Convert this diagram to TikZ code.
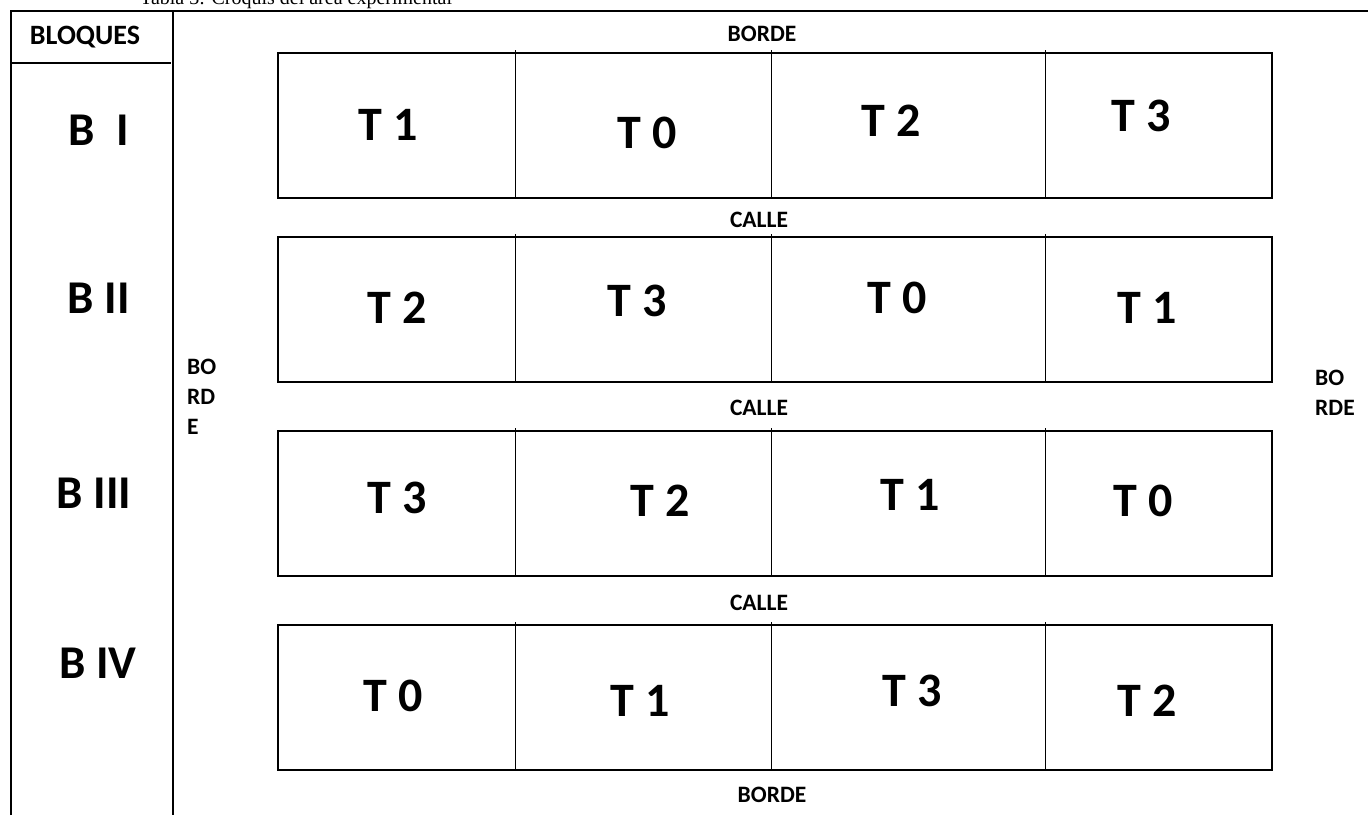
\documentclass[tikz,border=0pt]{standalone}
\usepackage{fontspec}
\setmainfont{Carlito}
\newfontfamily\capfont{Liberation Serif}

\begin{document}
\begin{tikzpicture}[x=1pt,y=-1pt,
    trt/.style={font=\fontsize{48}{48}\bfseries\selectfont,inner sep=0pt},
    blq/.style={font=\fontsize{47}{47}\bfseries\selectfont,inner sep=0pt},
    lbl/.style={font=\fontsize{23.5}{30}\bfseries\selectfont,inner sep=0pt,align=left},
    plot/.style={draw,line width=2pt},
    sep/.style={draw,line width=1pt}]
  \useasboundingbox (0,0) rectangle (1368,815);

  % caption, cut off at the top
  \node[anchor=base west,inner sep=0pt,font=\capfont\fontsize{20}{20}\selectfont] (cap) at (140,4) {Tabla 3: Croquis del área experimental};

  % frame and blocks column
  \draw[line width=2pt] (11,815) -- (11,11) -- (1368,11);
  \draw[line width=2pt] (173,11) -- (173,815);
  \draw[line width=1.2pt] (11,63) -- (171,63);
  \node[lbl,font=\fontsize{28}{28}\bfseries\selectfont] (bloques) at (85,37) {BLOQUES};

  \node[blq] (B1) at (99,130) {B\ \ I};
  \node[blq] (B2) at (99,298) {B II};
  \node[blq] (B3) at (94,493) {B III};
  \node[blq] (B4) at (98,663) {B IV};

  % plots
  \foreach \top in {53,237,431,625} {
    \draw[plot] (278,\top) rectangle (1272,\top+145);
    \foreach \x in {515,771,1045}
      \draw[sep] (\x,\top-3) -- (\x,\top+145);
  }

  \node[trt] (t11) at (388,125) {T 1};
  \node[trt] (t12) at (647,133) {T 0};
  \node[trt] (t13) at (891,121) {T 2};
  \node[trt] (t14) at (1141,116) {T 3};

  \node[trt] (t21) at (397,308) {T 2};
  \node[trt] (t22) at (637,301) {T 3};
  \node[trt] (t23) at (897,298) {T 0};
  \node[trt] (t24) at (1147,308) {T 1};

  \node[trt] (t31) at (397,498) {T 3};
  \node[trt] (t32) at (660,501) {T 2};
  \node[trt] (t33) at (910,495) {T 1};
  \node[trt] (t34) at (1143,501) {T 0};

  \node[trt] (t41) at (393,696) {T 0};
  \node[trt] (t42) at (640,701) {T 1};
  \node[trt] (t43) at (912,691) {T 3};
  \node[trt] (t44) at (1147,701) {T 2};

  % borders and paths
  \node[lbl] (bordeN) at (762,34) {BORDE};
  \node[lbl] (calle1) at (759,220) {CALLE};
  \node[lbl] (calle2) at (759,408) {CALLE};
  \node[lbl] (calle3) at (759,603) {CALLE};
  \node[lbl] (bordeS) at (772,795) {BORDE};
  \node[lbl,anchor=north west] (bordeW) at (187,359) {BO\\RD\\E};
  \node[lbl,anchor=north west] (bordeE) at (1315,370) {BO\\RDE};
\end{tikzpicture}
\end{document}
